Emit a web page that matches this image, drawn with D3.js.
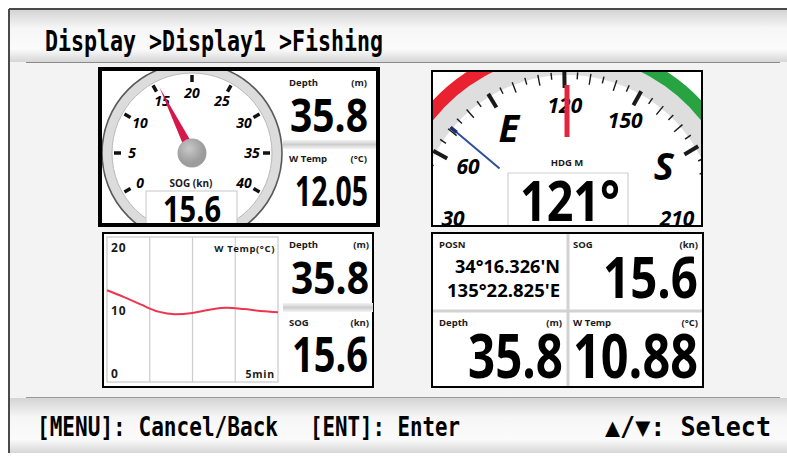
<!DOCTYPE html>
<html lang="en">
<head>
<meta charset="UTF-8">
<title>Display1 - Fishing</title>
<style>
  body { margin: 0; background: #fff; }
  svg { display: block; }
  .lbl { font-family: "Open Sans", sans-serif; font-weight: 700; fill: #1a1a1a; }
  .num { font-family: "Open Sans", sans-serif; font-weight: 700; fill: #000; }
  .sys { font-family: "DejaVu Sans Mono", monospace; font-weight: 700; fill: #000; }
</style>
</head>
<body>
<div id="viz"></div>
<script src="https://d3js.org/d3.v7.min.js"></script>
<script>
const breadcrumb = "Display >Display1 >Fishing"
const footerKeys = ["[MENU]: Cancel/Back", "[ENT]: Enter", "▲/▼: Select"]

// analog speed gauge
const sogTicks = [0, 5, 10, 15, 20, 25, 30, 35, 40]
const sog = 15.6
const depth = 35.8
const wTempTop = 12.05
const wTempNow = 10.88

// compass
const heading = 121
const course = 71
const compassDeg = [30, 60, 90, 120, 150, 180, 210]
const compassText = ["30", "60", "E", "120", "150", "S", "210"]

// water temp trend
const tempTimes = [0, 0.5, 1, 1.5, 2, 2.5, 3, 3.5, 4, 4.5, 5]
const tempValues = [13.3, 12.2, 11.0, 9.9, 9.5, 9.7, 10.2, 10.5, 10.3, 10.0, 9.8]
const tempTicks = [0, 10, 20]
const tempGrid = [1.25, 2.5, 3.75]

const position = ["34°16.326'N", "135°22.825'E"]

const W = 787, H = 456
const svg = d3.select("#viz").append("svg").attr("width", W).attr("height", H)
const defs = svg.append("defs")

function vGrad(id, stops) {
  let g = defs.append("linearGradient").attr("id", id)
    .attr("x1", 0).attr("y1", 0).attr("x2", 0).attr("y2", 1)
  stops.forEach(function(s) {
    g.append("stop").attr("offset", s[0]).attr("stop-color", s[1])
  })
}
vGrad("band", [[0, "#d4d4d4"], [0.35, "#f6f6f6"], [0.75, "#fbfbfb"], [1, "#d6d6d6"]])
vGrad("sep", [[0, "#f4f4f4"], [0.5, "#cdcdcd"], [1, "#f4f4f4"]])

let hub = defs.append("radialGradient").attr("id", "hub").attr("cx", 0.4).attr("cy", 0.35)
hub.append("stop").attr("offset", 0).attr("stop-color", "#c8c8c8")
hub.append("stop").attr("offset", 1).attr("stop-color", "#9c9c9c")

function clip(id, x, y, w, h) {
  defs.append("clipPath").attr("id", id).append("rect")
    .attr("x", x).attr("y", y).attr("width", w).attr("height", h)
}

function polar(cx, cy, r, deg) {
  let a = deg * Math.PI / 180
  return [cx + r * Math.sin(a), cy - r * Math.cos(a)]
}

// frame
svg.append("rect").attr("x", 9).attr("y", 9).attr("width", W - 9).attr("height", 444).attr("fill", "#f3f3f3")
svg.append("rect").attr("x", 10).attr("y", 10).attr("width", W - 10).attr("height", 52).attr("fill", "url(#band)")
svg.append("rect").attr("x", 10).attr("y", 398).attr("width", W - 10).attr("height", 55).attr("fill", "url(#band)")
svg.append("line").attr("x1", 9).attr("x2", W).attr("y1", 9).attr("y2", 9).attr("stroke", "#4a4a4a").attr("stroke-width", 2)
svg.append("line").attr("x1", 9).attr("x2", 9).attr("y1", 9).attr("y2", 453).attr("stroke", "#4a4a4a").attr("stroke-width", 2)
svg.append("line").attr("x1", 26).attr("x2", 780).attr("y1", 62.5).attr("y2", 62.5).attr("stroke", "#8a8a8a").attr("stroke-width", 1.2)
svg.append("line").attr("x1", 26).attr("x2", 780).attr("y1", 397.5).attr("y2", 397.5).attr("stroke", "#9a9a9a").attr("stroke-width", 1.2)

svg.append("text").attr("class", "sys").attr("x", 45).attr("y", 51)
  .attr("font-size", 28).attr("textLength", 338).attr("lengthAdjust", "spacingAndGlyphs")
  .text(breadcrumb)

const footX = [37, 310, 605], footW = [241, 150, 166]
svg.selectAll("text.foot").data(footerKeys).enter().append("text")
  .attr("class", "sys foot").attr("x", function(d, i) { return footX[i] }).attr("y", 436)
  .attr("font-size", 26).attr("textLength", function(d, i) { return footW[i] })
  .attr("lengthAdjust", "spacingAndGlyphs").text(function(d) { return d })

// panels
function panel(x, y, w, h, sw) {
  svg.append("rect").attr("x", x).attr("y", y).attr("width", w).attr("height", h)
    .attr("fill", "#fff").attr("stroke", "#000").attr("stroke-width", sw)
}
panel(100, 69, 278, 156, 4)
panel(432, 71, 270, 155, 2)
panel(103, 233, 270, 154, 2)
panel(432, 233, 271, 154, 2)

function label(x, y, t, anchor) {
  svg.append("text").attr("class", "lbl").attr("x", x).attr("y", y)
    .attr("font-size", 9.5).attr("text-anchor", anchor || "start").text(t)
}
function bigNum(g, x, y, t, size, len) {
  return g.append("text").attr("class", "num").attr("x", x).attr("y", y)
    .attr("text-anchor", "end").attr("font-size", size)
    .attr("textLength", len).attr("lengthAdjust", "spacingAndGlyphs").text(t)
}
function sepBand(x, y, w) {
  svg.append("rect").attr("x", x).attr("y", y).attr("width", w).attr("height", 9).attr("fill", "url(#sep)")
}

// ---------- top-left: SOG gauge ----------
clip("clipTL", 102, 71, 274, 152)
const gauge = svg.append("g").attr("clip-path", "url(#clipTL)")
const gx = 192, gy = 153
const gAngle = d3.scaleLinear().domain([0, 40]).range([-120, 120])

gauge.append("circle").attr("cx", gx).attr("cy", gy).attr("r", 85)
  .attr("fill", "none").attr("stroke", "#dcdcdc").attr("stroke-width", 10)
gauge.append("circle").attr("cx", gx).attr("cy", gy).attr("r", 90)
  .attr("fill", "none").attr("stroke", "#5a5a5a").attr("stroke-width", 1.6)
gauge.append("circle").attr("cx", gx).attr("cy", gy).attr("r", 80)
  .attr("fill", "#fff").attr("stroke", "#b8b8b8").attr("stroke-width", 1)

gauge.selectAll("line.tick").data(sogTicks).enter().append("line").attr("class", "tick")
  .each(function(d) {
    let a = polar(gx, gy, 71, gAngle(d)), b = polar(gx, gy, 78, gAngle(d))
    d3.select(this).attr("x1", a[0]).attr("y1", a[1]).attr("x2", b[0]).attr("y2", b[1])
  })
  .attr("stroke", "#111").attr("stroke-width", 3.5)

gauge.selectAll("text.glab").data(sogTicks).enter().append("text").attr("class", "num glab")
  .attr("x", function(d) { return polar(gx, gy, 60, gAngle(d))[0] })
  .attr("y", function(d) { return polar(gx, gy, 60, gAngle(d))[1] })
  .attr("dy", "0.36em").attr("text-anchor", "middle")
  .attr("font-size", 14).attr("font-style", "italic").text(function(d) { return d })

gauge.append("text").attr("class", "lbl").attr("x", 191).attr("y", 187)
  .attr("text-anchor", "middle").attr("font-size", 10).text("SOG (kn)")
gauge.append("rect").attr("x", 146).attr("y", 191).attr("width", 91).attr("height", 40)
  .attr("fill", "#fff").attr("stroke", "#cfcfcf").attr("stroke-width", 1.2)
gauge.append("text").attr("class", "num").attr("x", 192).attr("y", 222)
  .attr("text-anchor", "middle").attr("font-size", 35)
  .attr("textLength", 58).attr("lengthAdjust", "spacingAndGlyphs").text(sog.toFixed(1))

let na = gAngle(sog)
let tip = polar(gx, gy, 73, na), l = polar(gx, gy, 5, na - 90), r = polar(gx, gy, 5, na + 90)
gauge.append("path").attr("d", d3.line()([l, tip, r]) + "Z").attr("fill", "#d5174c")
gauge.append("circle").attr("cx", gx).attr("cy", gy).attr("r", 14.5).attr("fill", "url(#hub)")

label(289, 86, "Depth")
label(367, 86, "(m)", "end")
bigNum(svg, 368, 132, depth.toFixed(1), 46, 78)
sepBand(283, 140, 93)
label(289, 162, "W Temp")
label(367, 162, "(°C)", "end")
bigNum(svg, 368, 206, wTempTop.toFixed(2), 41, 73)

// ---------- top-right: heading compass ----------
clip("clipTR", 433, 72, 268, 153)
const comp = svg.append("g").attr("clip-path", "url(#clipTR)")
const cx = 567, cy = 225
const cAngle = function(d) { return d - heading }
const arc = d3.arc()

comp.append("path").attr("transform", "translate(" + cx + "," + cy + ")")
  .attr("d", arc({innerRadius: 150, outerRadius: 170, startAngle: -Math.PI * 0.62, endAngle: Math.PI * 0.62}))
  .attr("fill", "#dedede")
comp.append("path").attr("transform", "translate(" + cx + "," + cy + ")")
  .attr("d", arc({innerRadius: 170, outerRadius: 183, startAngle: -Math.PI * 0.6, endAngle: -Math.PI * 0.1}))
  .attr("fill", "#e8232f")
comp.append("path").attr("transform", "translate(" + cx + "," + cy + ")")
  .attr("d", arc({innerRadius: 170, outerRadius: 183, startAngle: Math.PI * 0.1, endAngle: Math.PI * 0.6}))
  .attr("fill", "#27a341")

const compTicks = d3.range(0, 360, 5).filter(function(d) { return Math.abs(cAngle(d)) < 115 })
comp.selectAll("line.ct").data(compTicks).enter().append("line").attr("class", "ct")
  .each(function(d) {
    let r0 = d % 30 === 0 ? 137 : (d % 10 === 0 ? 142 : 146)
    let a = polar(cx, cy, r0, cAngle(d)), b = polar(cx, cy, 153, cAngle(d))
    d3.select(this).attr("x1", a[0]).attr("y1", a[1]).attr("x2", b[0]).attr("y2", b[1])
      .attr("stroke-width", d % 30 === 0 ? 4 : 1.4)
  })
  .attr("stroke", "#1a1a1a")

comp.selectAll("text.clab").data(compassDeg).enter().append("text").attr("class", "num clab")
  .each(function(d, i) {
    let letter = compassText[i] === "E" || compassText[i] === "S"
    let p = polar(cx, cy, letter ? 113 : 120, cAngle(d))
    d3.select(this).attr("x", p[0] + (p[0] < cx - 100 ? 6 : (p[0] > cx + 100 ? -10 : 0)))
      .attr("y", Math.min(p[1], 218))
      .attr("dy", "0.36em").attr("font-size", letter ? 38 : 21)
  })
  .attr("text-anchor", "middle").attr("font-style", "italic")
  .text(function(d, i) { return compassText[i] })

let cs = polar(cx, cy, 88, cAngle(course)), ce = polar(cx, cy, 152, cAngle(course))
comp.append("line").attr("x1", cs[0]).attr("y1", cs[1]).attr("x2", ce[0]).attr("y2", ce[1])
  .attr("stroke", "#2d4f9e").attr("stroke-width", 2)
let ah = polar(cx, cy, 144, cAngle(course))
comp.append("line").attr("x1", ah[0]).attr("y1", ah[1]).attr("x2", ce[0]).attr("y2", ce[1])
  .attr("stroke", "#1c2f70").attr("stroke-width", 3.5)

comp.append("rect").attr("x", cx - 2.5).attr("y", 85).attr("width", 5).attr("height", 52).attr("fill", "#e5233f")

comp.append("text").attr("class", "lbl").attr("x", cx).attr("y", 166)
  .attr("text-anchor", "middle").attr("font-size", 9.5).text("HDG M")
comp.append("path").attr("d", "M508,230V173H628V230").attr("fill", "#fff")
  .attr("stroke", "#cfcfcf").attr("stroke-width", 1.2)
comp.append("text").attr("class", "num").attr("x", 570).attr("y", 221)
  .attr("text-anchor", "middle").attr("font-size", 56)
  .attr("textLength", 100).attr("lengthAdjust", "spacingAndGlyphs").text(heading + "°")

// ---------- bottom-left: temperature graph ----------
const x = d3.scaleLinear().domain([0, 5]).range([107, 278])
const y = d3.scaleLinear().domain([0, 20]).range([374, 248])
const graph = svg.append("g")
graph.append("rect").attr("x", 107).attr("y", 237).attr("width", 171).attr("height", 145)
  .attr("fill", "#fff").attr("stroke", "#c8c8c8").attr("stroke-width", 1.2)
graph.selectAll("line.grid").data(tempGrid).enter().append("line").attr("class", "grid")
  .attr("x1", function(d) { return x(d) }).attr("x2", function(d) { return x(d) })
  .attr("y1", 237).attr("y2", 382).attr("stroke", "#cdcdcd").attr("stroke-width", 1.2)
graph.selectAll("text.yl").data(tempTicks).enter().append("text").attr("class", "lbl yl")
  .attr("x", 111).attr("y", function(d) { return y(d) }).attr("dy", "0.36em")
  .attr("font-size", 12).attr("letter-spacing", 1).text(function(d) { return d })
graph.append("text").attr("class", "lbl").attr("x", 275).attr("y", 252).attr("text-anchor", "end")
  .attr("font-size", 9.5).attr("letter-spacing", 0.6).text("W Temp(°C)")
graph.append("text").attr("class", "lbl").attr("x", 275).attr("y", 378).attr("text-anchor", "end")
  .attr("font-size", 10.5).attr("letter-spacing", 0.8).text("5min")
graph.append("path").datum(tempValues)
  .attr("d", d3.line().curve(d3.curveMonotoneX)
    .x(function(d, i) { return x(tempTimes[i]) }).y(function(d) { return y(d) }))
  .attr("fill", "none").attr("stroke", "#ee3550").attr("stroke-width", 2)

label(289, 248, "Depth")
label(369, 248, "(m)", "end")
bigNum(svg, 369, 294, depth.toFixed(1), 44, 78)
sepBand(283, 303, 90)
label(289, 326, "SOG")
label(369, 326, "(kn)", "end")
bigNum(svg, 368, 372, sog.toFixed(1), 49, 76)

// ---------- bottom-right: data boxes ----------
svg.append("line").attr("x1", 568).attr("x2", 568).attr("y1", 234).attr("y2", 386)
  .attr("stroke", "#d2d2d2").attr("stroke-width", 3)
svg.append("line").attr("x1", 433).attr("x2", 702).attr("y1", 311).attr("y2", 311)
  .attr("stroke", "#d2d2d2").attr("stroke-width", 3)

label(439, 248, "POSN")
svg.selectAll("text.pos").data(position).enter().append("text").attr("class", "num pos")
  .attr("x", 560).attr("y", function(d, i) { return 273 + i * 24 })
  .attr("text-anchor", "end").attr("font-size", 18)
  .attr("textLength", function(d, i) { return i === 0 ? 105 : 113 })
  .attr("lengthAdjust", "spacingAndGlyphs").text(function(d) { return d })

label(573, 248, "SOG")
label(698, 248, "(kn)", "end")
bigNum(svg, 698, 298, sog.toFixed(1), 58, 95)

label(439, 326, "Depth")
label(562, 326, "(m)", "end")
bigNum(svg, 563, 378, depth.toFixed(1), 60, 95)

label(573, 326, "W Temp")
label(698, 326, "(°C)", "end")
bigNum(svg, 698, 378, wTempNow.toFixed(2), 60, 125)
</script>
</body>
</html>
